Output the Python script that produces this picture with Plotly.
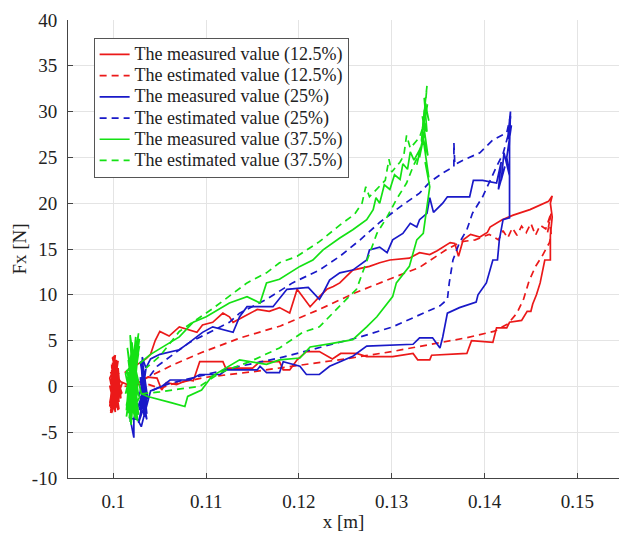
import plotly.graph_objects as go

# ---------------- data ----------------
# Red, 12.5 %
red_meas_x = [0.1010,0.1004,0.0998,0.1005,0.0997,0.1003,0.0999,0.1006,0.0996,0.1002,0.0999,0.1007,0.0998,0.1004,0.1000,0.1006,0.0997,0.1003,0.0999,0.1005,0.0996,0.1002,0.1000,0.1007,0.0998,0.1004,0.1001,0.1006,0.0997,0.1003,
              0.0996,0.1001,0.1006,0.0998,0.1004,0.0997,0.1002,0.1007,0.0999,0.1005,0.0996,0.1003,0.1000,0.1006,0.0998,0.1004,0.0997,0.1002,0.1008,0.1005,0.1000,0.1009,0.1003,0.1008,0.1015,0.1025,
              0.1037,0.1047,0.1052,0.1057,0.1068,0.1080,0.1086,0.1091,0.1093,0.1118,0.1121,0.1150,0.1158,0.1179,0.1183,0.1190,0.1198,0.1208,0.1222,0.1236,0.1245,0.1262,0.1273,0.1301,0.1323,0.1328,0.1341,0.1343,0.1381,0.1386,0.1409,0.1413,0.1424,0.1427,0.1440,0.1446,0.1450,0.1452,0.1456,0.1460,0.1465,0.1471,0.1471,0.1473,0.1471,0.1473,0.1469,
              0.1449,0.1431,0.1419,0.1406,0.1403,0.1395,0.1385,0.1377,0.1372,0.1368,0.1363,0.1349,0.1341,0.1330,0.1319,0.1298,0.1287,0.1276,0.1258,0.1244,0.1237,0.1230,0.1222,0.1212,0.1198,0.1190,0.1179,0.1168,0.1155,0.1129,0.1125,0.1118,0.1107,0.1096,0.1090,0.1071,0.1060,0.1050,0.1045,0.1040,0.1035,0.1012]
red_meas_y = [0.5,-1.2,1.8,-2.6,0.4,2.9,-0.8,1.5,-2.2,3.4,3.1,-0.3,-2.9,2.1,-1.6,0.8,-2.4,1.2,2.6,-1.9,0.1,-2.8,1.9,-0.9,2.4,-2.1,0.9,-1.4,1.6,-0.6,
              -1.8,1.0,-2.5,2.2,-0.2,-2.9,1.4,0.6,-1.1,2.8,0.9,-2.3,3.3,-1.7,-0.5,1.7,-2.7,0.2,-1.3,2.0,-1.9,-0.7,1.1,0.5,0.2,0.3,
              1.0,0.9,-0.4,0.4,0.2,0.7,0.6,2.2,2.7,2.7,2.0,2.0,2.7,2.7,1.8,1.8,2.9,3.8,3.8,3.0,3.6,3.6,3.25,3.25,3.6,2.9,2.9,3.4,3.6,5.0,4.8,6.4,6.4,7.0,7.2,8.2,8.2,9.0,10.0,11.3,13.8,13.8,16.5,18.5,20.0,20.8,20.2,
              19.3,18.7,18.2,17.4,16.8,16.3,16.6,16.0,14.2,15.6,15.7,14.8,14.4,14.6,14.0,13.8,13.5,13.1,12.7,11.3,10.9,10.6,9.8,8.7,10.6,8.0,8.6,8.2,8.4,7.0,7.6,8.0,7.0,6.7,5.9,6.5,5.5,6.0,5.0,3.5,3.0,1.5]

red_est_x = [0.1012,0.1035,0.1050,0.1065,0.1100,0.1150,0.1200,0.1250,0.1300,0.1345,0.1380,0.1410,0.1425,0.1435,0.1442,0.1448,0.1455,0.1462,0.1470,0.1472,
             0.1470,0.1468,0.1472,0.1466,0.1460,0.1455,0.1450,0.1445,0.1440,0.1435,0.1430,0.1425,0.1420,0.1415,
             0.1405,0.1390,0.1375,0.1360,0.1345,0.1330,0.1300,0.1260,0.1222,0.1180,0.1137,0.1095,0.1065,0.1037,0.1015]
red_est_y = [0.0,0.3,-0.2,0.3,1.0,1.6,2.3,3.0,3.8,4.6,5.3,6.0,6.8,8.0,9.5,11.5,13.1,14.2,15.7,16.5,
             18.0,16.8,19.0,17.2,17.6,16.5,17.8,16.8,17.5,16.5,17.3,16.2,17.0,16.0,
             16.6,16.0,15.8,15.0,14.0,13.0,11.8,10.2,8.4,6.6,5.3,3.7,2.4,1.0,0.2]

# Blue, 25 %
blue_meas_x = [0.1035,0.1031,0.1034,0.1029,0.1036,0.1030,0.1033,0.1027,0.1035,0.1022,0.1022,0.1018,0.1026,0.1030,0.1034,0.1028,0.1033,0.1031,0.1036,0.1029,0.1034,0.1032,
               0.1036,0.1030,0.1035,0.1028,0.1034,0.1031,0.1037,0.1029,0.1033,0.1040,
               0.1052,0.1061,0.1082,0.1093,0.1115,0.1122,0.1155,0.1158,0.1165,0.1179,0.1183,0.1201,0.1208,0.1222,0.1233,0.1258,0.1273,0.1323,0.1330,0.1344,0.1352,0.1355,0.1360,0.1373,0.1391,0.1393,0.1402,0.1409,0.1414,0.1416,0.1420,0.1427,0.1427,0.1428,
               0.1425,0.1429,0.1424,0.1427,0.1421,0.1418,0.1422,0.1415,0.1418,0.1413,
               0.1398,0.1388,0.1384,0.1360,0.1355,0.1345,0.1341,0.1338,0.1330,0.1327,0.1320,0.1312,0.1301,0.1295,0.1287,0.1276,0.1273,0.1258,0.1244,0.1233,0.1226,0.1222,0.1210,0.1187,0.1172,0.1144,0.1136,0.1129,0.1107,0.1096,0.1082,0.1071,0.1050,0.1040,0.1035]
blue_meas_y = [2.0,3.2,-1.5,0.8,-3.0,2.4,-2.2,-4.0,0.2,-3.5,-5.6,-3.5,-3.6,-4.4,-2.8,-1.0,1.5,-0.4,-2.0,2.7,0.6,-1.2,
               -3.6,-1.8,1.9,-2.6,-0.2,2.9,-1.4,1.0,-3.2,-0.5,
               0.0,0.7,0.7,1.3,1.3,1.8,1.8,2.2,1.5,1.5,2.7,2.2,1.3,1.3,2.2,3.3,4.4,4.6,5.3,5.3,4.2,5.4,8.0,8.6,9.2,10.0,11.3,13.8,13.8,16.0,18.2,18.4,26.2,30.0,
               27.0,28.5,25.0,23.0,25.5,22.5,24.0,21.5,24.5,22.2,
               22.5,22.5,20.7,20.7,20.0,19.0,20.6,18.9,18.2,17.4,17.8,16.7,16.0,14.6,15.2,14.9,13.8,12.7,12.4,11.6,10.2,9.5,10.8,10.6,8.7,8.7,7.6,5.9,6.5,5.9,4.8,4.0,3.5,3.0,2.0]

blue_est_x = [0.1030,0.1045,0.1060,0.1080,0.1100,0.1136,0.1179,0.1222,0.1266,0.1301,0.1338,0.1352,0.1360,0.1362,0.1366,0.1373,0.1381,0.1387,0.1398,0.1406,0.1413,0.1420,0.1427,0.1428,
              0.1424,0.1409,0.1395,0.1377,0.1368,0.1367,0.1367,0.1355,0.1341,0.1330,0.1309,0.1287,0.1266,0.1244,0.1222,0.1193,0.1165,0.1136,0.1125,0.1082,0.1047,0.1039]
blue_est_y = [-1.0,-0.3,0.3,0.8,1.3,2.2,3.1,4.2,5.4,6.5,8.2,8.8,9.5,11.3,13.8,15.7,17.1,18.9,20.7,22.5,24.0,25.4,28.0,29.5,
              27.7,26.9,25.5,24.7,24.2,26.6,24.0,23.3,22.3,21.1,19.6,17.9,16.0,14.2,12.7,11.3,9.5,8.0,7.0,4.8,2.2,1.1]

# Green, 37.5 %
green_meas_x = [0.1016,0.1024,0.1014,0.1027,0.1018,0.1022,0.1013,0.1026,0.1019,0.1023,0.1015,0.1028,0.1017,0.1021,0.1014,0.1025,0.1020,0.1024,0.1016,0.1027,0.1018,0.1022,0.1015,0.1026,0.1019,0.1023,0.1017,0.1028,0.1014,0.1021,0.1016,0.1025,0.1018,0.1024,0.1020,0.1027,0.1015,0.1022,0.1019,0.1026,
                0.1014,0.1020,0.1025,0.1017,0.1023,0.1013,0.1027,0.1019,0.1024,0.1016,0.1022,0.1026,0.1018,0.1021,0.1015,0.1025,0.1020,0.1028,0.1017,0.1023,0.1030,
                0.1037,0.1063,0.1077,0.1080,0.1095,0.1106,0.1136,0.1165,0.1179,0.1201,0.1212,0.1236,0.1258,0.1273,0.1284,0.1301,0.1305,0.1319,0.1323,0.1327,0.1334,0.1338,0.1341,
                0.1336,0.1340,0.1334,0.1339,0.1333,0.1338,0.1335,0.1340,0.1336,0.1332,0.1337,0.1330,0.1334,0.1327,0.1331,
                0.1324,0.1320,0.1317,0.1312,0.1309,0.1303,0.1298,0.1292,0.1287,0.1283,0.1280,0.1273,0.1258,0.1244,0.1226,0.1215,0.1201,0.1190,0.1179,0.1165,0.1158,0.1144,0.1125,0.1100,0.1086,0.1071,0.1053,0.1040,0.1028]
green_meas_y = [0.0,3.5,-2.1,5.8,-3.9,1.2,-0.8,4.6,-4.2,2.2,-1.5,5.2,-3.0,0.6,1.8,-2.5,4.0,-3.6,2.9,-1.0,5.6,-2.8,0.9,3.1,-4.0,1.6,-1.9,4.4,-3.3,2.5,-0.4,5.0,-2.2,0.3,3.8,-3.1,1.1,-1.3,2.7,0.4,
                -2.6,4.8,-0.6,2.0,-3.4,1.4,3.6,-1.7,5.4,-2.9,0.8,-3.8,3.0,-0.9,4.2,-2.0,1.9,-1.2,-3.5,2.3,-0.8,
                -1.1,-1.8,-2.2,-1.1,-0.4,1.1,2.9,2.4,2.9,3.1,4.3,4.7,5.1,6.5,7.6,9.8,11.3,13.1,14.6,16.0,16.7,19.6,21.8,
                24.5,22.8,27.0,25.2,29.5,27.8,31.5,29.0,30.8,26.8,28.5,25.0,27.2,24.2,26.0,
                24.7,25.6,23.7,24.3,22.6,23.1,21.5,22.0,20.0,20.6,19.3,18.2,17.1,16.2,14.9,13.8,13.1,12.4,11.7,11.3,9.1,9.8,9.1,7.6,7.0,5.4,4.3,3.5,2.5]

green_est_x = [0.1030,0.1050,0.1070,0.1093,0.1115,0.1147,0.1179,0.1204,0.1222,0.1236,0.1251,0.1262,0.1276,0.1284,0.1295,0.1305,0.1316,0.1323,0.1330,0.1334,
               0.1337,0.1333,0.1338,0.1335,0.1339,0.1334,
               0.1330,0.1320,0.1316,0.1313,0.1309,0.1300,0.1297,0.1293,0.1276,0.1272,0.1268,0.1260,0.1244,0.1222,0.1198,0.1179,0.1165,0.1144,0.1107,0.1071,0.1050,0.1035]
green_est_y = [-0.8,-0.6,-0.3,0.0,1.5,2.7,4.2,5.9,6.5,8.0,9.5,10.6,14.6,16.7,18.5,20.4,22.2,24.0,25.5,27.6,
               30.5,28.0,32.8,29.2,31.0,28.4,
               27.2,26.0,27.4,25.2,24.5,23.4,24.8,22.5,20.7,21.8,20.0,18.8,17.6,15.8,14.2,13.5,12.4,11.3,8.5,6.0,3.3,2.0]

x_ticks = [0.1, 0.11, 0.12, 0.13, 0.14, 0.15]
x_tick_labels = ["0.1", "0.11", "0.12", "0.13", "0.14", "0.15"]
y_ticks = [-10, -5, 0, 5, 10, 15, 20, 25, 30, 35, 40]
y_tick_labels = ["-10", "-5", "0", "5", "10", "15", "20", "25", "30", "35", "40"]

series = [
    ("The measured value (12.5%)", red_meas_x, red_meas_y, "rgb(235,25,25)", "solid"),
    ("The estimated value (12.5%)", red_est_x, red_est_y, "rgb(235,25,25)", "7px,5px"),
    ("The measured value (25%)", blue_meas_x, blue_meas_y, "rgb(25,25,200)", "solid"),
    ("The estimated value (25%)", blue_est_x, blue_est_y, "rgb(25,25,200)", "7px,5px"),
    ("The measured value (37.5%)", green_meas_x, green_meas_y, "rgb(20,225,20)", "solid"),
    ("The estimated value (37.5%)", green_est_x, green_est_y, "rgb(20,225,20)", "7px,5px"),
]

FONT = "Liberation Serif"

fig = go.Figure()
for name, xs, ys, col, dash in series:
    fig.add_trace(go.Scatter(x=xs, y=ys, mode="lines",
                             name='<span style="font-size:18px">' + name + '</span>',
                             line=dict(color=col, width=1.7, dash=dash)))

fig.update_layout(
    width=619, height=535,
    margin=dict(l=68, r=0, t=20, b=57),
    paper_bgcolor="white", plot_bgcolor="white",
    font=dict(family=FONT, size=19, color="#222"),
    showlegend=True,
    legend=dict(x=0.0465, y=0.961, xanchor="left", yanchor="top",
                bgcolor="white", bordercolor="#555", borderwidth=1,
                font=dict(family=FONT, size=14, color="#222"),
                itemwidth=30, tracegroupgap=0),
)
fig.update_xaxes(range=[0.0951, 0.1545], tickvals=x_ticks, ticktext=x_tick_labels,
                 showgrid=True, gridcolor="#e4e4e4", gridwidth=1,
                 showline=True, linecolor="#444", linewidth=1,
                 ticks="inside", ticklen=5, tickcolor="#444",
                 ticklabelstandoff=6, zeroline=False,
                 title=dict(text="x [m]", font=dict(family=FONT, size=19), standoff=3))
fig.update_yaxes(range=[-10, 40], tickvals=y_ticks, ticktext=y_tick_labels,
                 showgrid=True, gridcolor="#e4e4e4", gridwidth=1,
                 showline=True, linecolor="#444", linewidth=1,
                 ticks="inside", ticklen=5, tickcolor="#444",
                 ticklabelstandoff=6, zeroline=False,
                 title=dict(text="Fx [N]", font=dict(family=FONT, size=19), standoff=0))

fig.write_html("out.html")
